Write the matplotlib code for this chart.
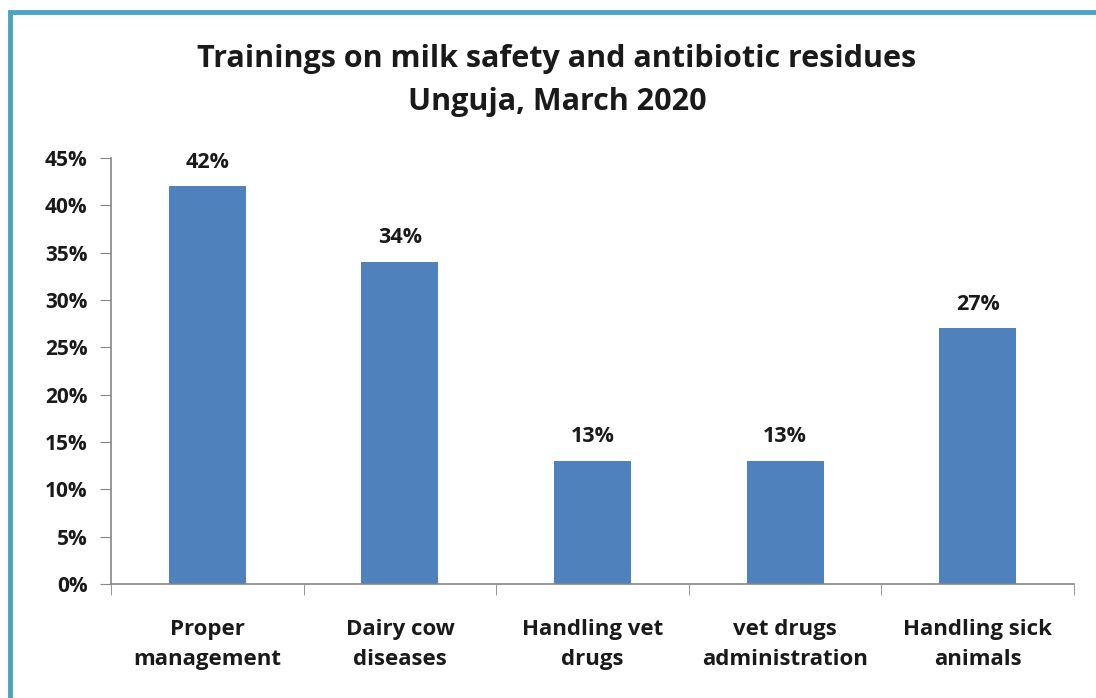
import matplotlib
matplotlib.use("Agg")
import matplotlib.pyplot as plt
from matplotlib.lines import Line2D
from matplotlib.ticker import FixedLocator, NullFormatter

categories = ["Proper\nmanagement", "Dairy cow\ndiseases", "Handling vet\ndrugs",
              "vet drugs\nadministration", "Handling sick\nanimals"]
values = [42, 34, 13, 13, 27]
y_ticks = [0, 5, 10, 15, 20, 25, 30, 35, 40, 45]
y_tick_labels = [f"{v}%" for v in y_ticks]
title_lines = ["Trainings on milk safety and antibiotic residues", "Unguja, March 2020"]

W, H = 1096, 698
fig = plt.figure(figsize=(W / 100, H / 100), dpi=100)
fig.patch.set_facecolor("white")

font = "Open Sans"
bar_color = "#4F81BD"
axis_color = "#868686"
text_color = "#1a1a1a"

ax = fig.add_axes([111 / W, 1 - 584 / H, (1074 - 111) / W, (584 - 158) / H])
x = list(range(len(categories)))
ax.bar(x, values, width=0.4, color=bar_color, zorder=2)
ax.set_xlim(-0.5, len(categories) - 0.5)
ax.set_ylim(0, 45)

ax.set_yticks(y_ticks)
ax.set_yticklabels(y_tick_labels, fontfamily=font, fontweight="bold", fontsize=15,
                   color=text_color)
ax.set_xticks(x)
ax.set_xticklabels(categories, fontfamily=font, fontweight="bold", fontsize=16,
                   linespacing=1.6, color=text_color)
ax.tick_params(axis="x", which="major", length=0, pad=25)
ax.xaxis.set_minor_locator(FixedLocator([i + 0.5 for i in range(-1, len(categories))]))
ax.xaxis.set_minor_formatter(NullFormatter())
ax.tick_params(axis="x", which="minor", length=8, direction="out", color=axis_color)
ax.tick_params(axis="y", length=8, direction="out", color=axis_color, pad=9)

for s in ["top", "right"]:
    ax.spines[s].set_visible(False)
for s in ["left", "bottom"]:
    ax.spines[s].set_color(axis_color)
    ax.spines[s].set_linewidth(1.2)

for xi, v in zip(x, values):
    ax.annotate(f"{v}%", (xi, v), xytext=(0, 10), textcoords="offset points",
                ha="center", va="bottom", fontfamily=font, fontweight="bold", fontsize=15.5,
                color=text_color)

fig.text(557 / W, 1 - 59 / H, title_lines[0], ha="center", va="center",
         fontfamily=font, fontweight="bold", fontsize=22, color=text_color)
fig.text(557 / W, 1 - 102 / H, title_lines[1], ha="center", va="center",
         fontfamily=font, fontweight="bold", fontsize=22, color=text_color)

# frame edges along top and left
border = "#4BA3C3"
fig.add_artist(Line2D([8 / W, 1], [1 - 12 / H, 1 - 12 / H], transform=fig.transFigure,
                      color=border, linewidth=3.5, solid_capstyle="butt"))
fig.add_artist(Line2D([10 / W, 10 / W], [0, 1 - 10 / H], transform=fig.transFigure,
                      color=border, linewidth=3.5, solid_capstyle="butt"))

fig.savefig("out.png", dpi=100)
